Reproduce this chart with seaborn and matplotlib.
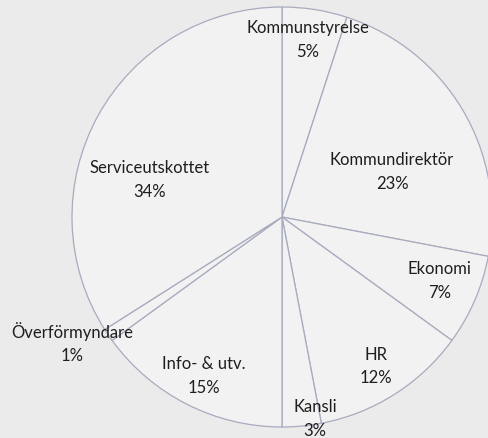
import numpy as np
import matplotlib
matplotlib.use("Agg")
import matplotlib.pyplot as plt
import seaborn as sns

categories = ["Kommunstyrelse", "Kommundirektör", "Ekonomi", "HR", "Kansli",
              "Info- & utv.", "Överförmyndare", "Serviceutskottet"]
values = [5, 23, 7, 12, 3, 15, 1, 34]
pct_labels = ["5%", "23%", "7%", "12%", "3%", "15%", "1%", "34%"]
# label centres in pie-radius units (text placement)
label_pos = [(0.124, 0.843), (0.524, 0.214), (0.752, -0.305), (0.448, -0.710),
             (0.157, -0.962), (-0.371, -0.757), (-1.0, -0.6), (-0.629, 0.176)]

sns.set_theme(style="white")
plt.rcParams['font.family'] = ['Lato', 'DejaVu Sans']

W, H = 488, 438
cx, cy, R = 282, 217, 210
fig = plt.figure(figsize=(W / 100, H / 100), dpi=100)
fig.patch.set_facecolor("#ebebeb")
ax = fig.add_axes([0, 0, 1, 1])
ax.set_facecolor("#ebebeb")

ax.pie(values, startangle=90, counterclock=False, radius=1.0,
       colors=["#f2f2f2"] * len(values),
       wedgeprops=dict(edgecolor="#a7abbd", linewidth=0.9))

for (x, y), name, p in zip(label_pos, categories, pct_labels):
    ax.text(x, y, f"{name}\n{p}", ha="center", va="center", fontsize=12,
            color="#1e1e1e", linespacing=1.55)

ax.set_xlim(-cx / R, (W - cx) / R)
ax.set_ylim(-(H - cy) / R, cy / R)
ax.set_aspect("auto")
ax.axis("off")

fig.savefig("out.png", dpi=100, facecolor=fig.get_facecolor())
